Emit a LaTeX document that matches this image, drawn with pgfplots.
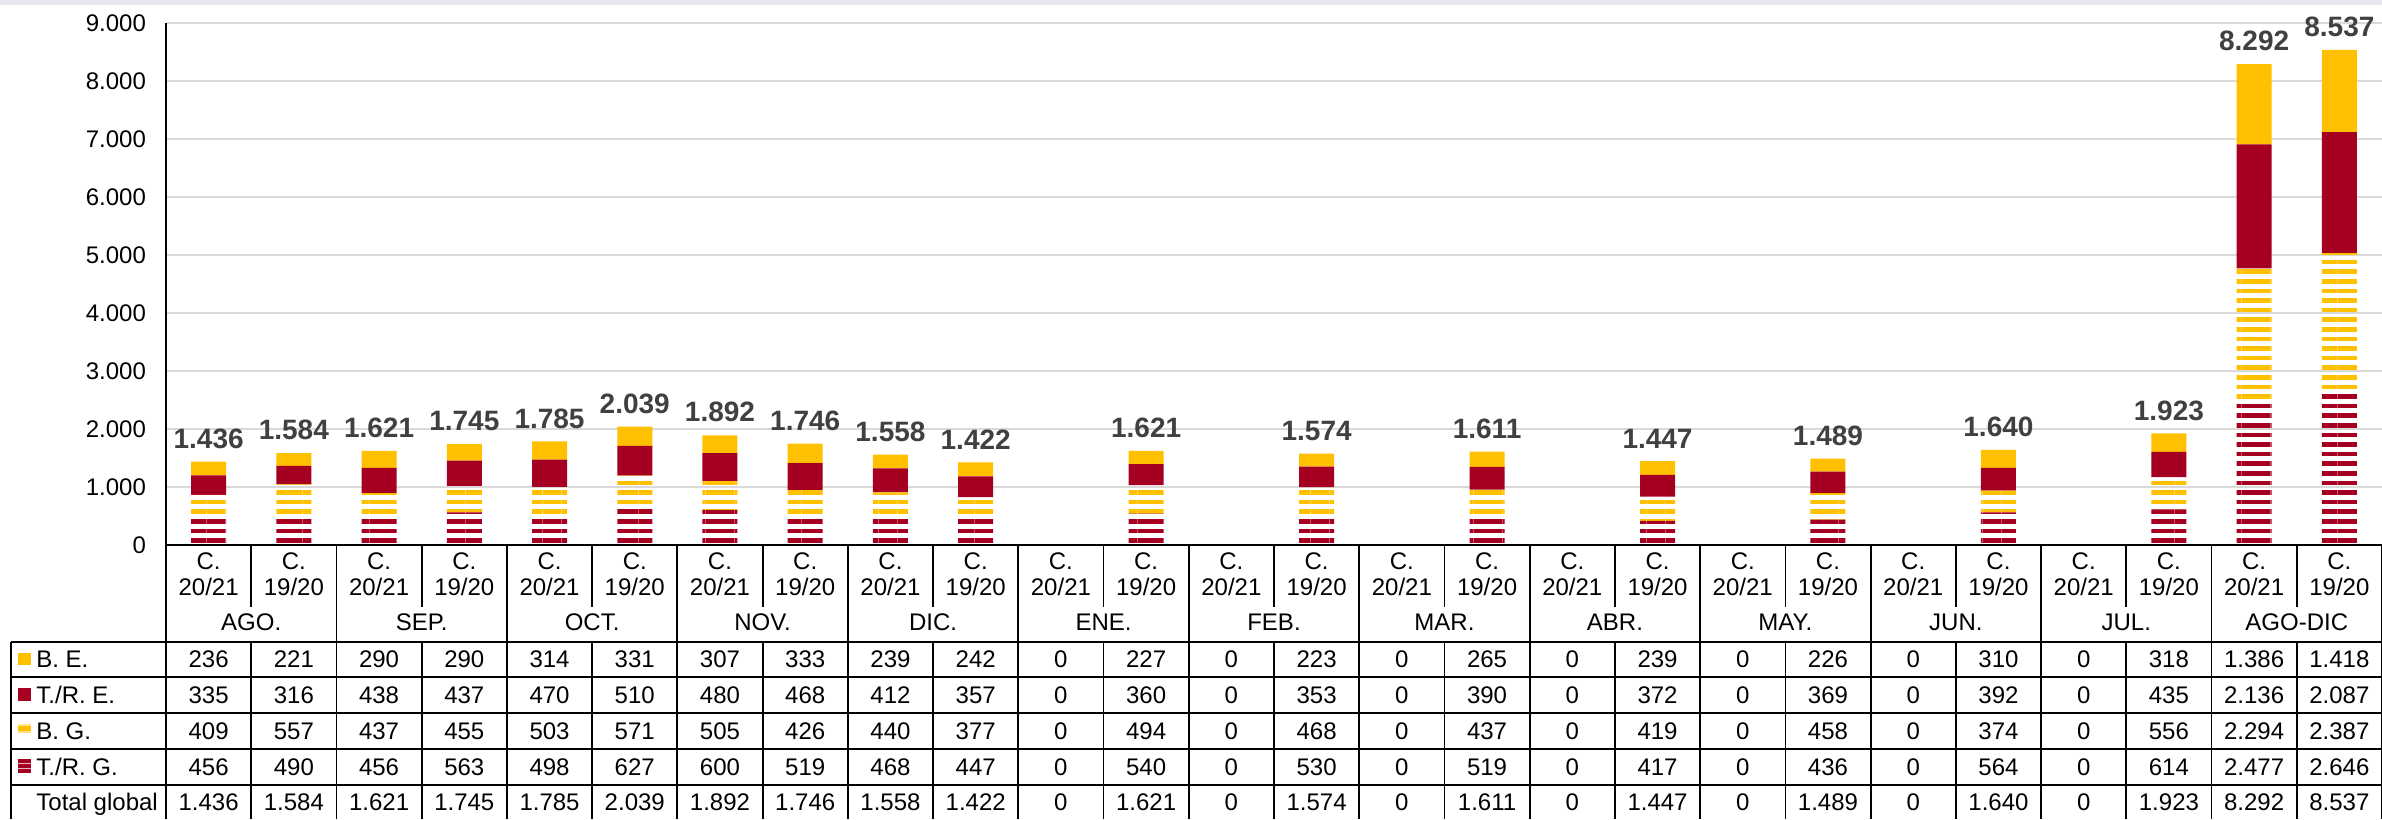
\documentclass[border=0pt]{standalone}
\usepackage{pgfplots}
\pgfplotsset{compat=1.18}
\usepackage{pgfplotstable}
\usetikzlibrary{patterns.meta}
\usepackage{fontspec}
\setmainfont{Liberation Sans}

\definecolor{amarillo}{HTML}{FFC000}
\definecolor{granate}{HTML}{A50021}
\definecolor{rejilla}{HTML}{D9D9D9}
\definecolor{etiqueta}{HTML}{404040}
\definecolor{banda}{HTML}{E9E6EE}

% be = B. E., tre = T./R. E., bg = B. G., trg = T./R. G., tot = Total global
\pgfplotstableread{
x  be    tre   bg    trg   tot
0  236   335   409   456   1436
1  221   316   557   490   1584
2  290   438   437   456   1621
3  290   437   455   563   1745
4  314   470   503   498   1785
5  331   510   571   627   2039
6  307   480   505   600   1892
7  333   468   426   519   1746
8  239   412   440   468   1558
9  242   357   377   447   1422
10 0     0     0     0     0
11 227   360   494   540   1621
12 0     0     0     0     0
13 223   353   468   530   1574
14 0     0     0     0     0
15 265   390   437   519   1611
16 0     0     0     0     0
17 239   372   419   417   1447
18 0     0     0     0     0
19 226   369   458   436   1489
20 0     0     0     0     0
21 310   392   374   564   1640
22 0     0     0     0     0
23 318   435   556   614   1923
24 1386  2136  2294  2477  8292
25 1418  2087  2387  2646  8537
}\datos

\tikzset{rayas/.style={draw=none, pattern={Lines[angle=0,distance=4.8pt,line width=2.3pt]}, pattern color=#1}}
\pgfplotsset{
  marco/.style={at={(83pt,137pt)}, anchor=south west,
    scale only axis, width=1108pt, height=261pt,
    xmin=-0.5, xmax=25.5, ymin=0, ymax=9000},
}

\begin{document}
\begin{tikzpicture}[x=0.5pt, y=0.5pt, font=\fontsize{12}{13}\selectfont]
\useasboundingbox (0,0) rectangle (2382,819);
\fill[banda] (0,814) rectangle (2382,819);

\begin{axis}[
  marco,
  ybar stacked, bar width=17.5pt,
  axis lines*=left,
  x axis line style={line width=1.2pt},
  y axis line style={line width=0.7pt},
  ytick={0,1000,...,9000},
  ymajorgrids, grid style={rejilla, line width=1pt},
  major tick length=0pt,
  tick label style={font=\fontsize{12}{13}\selectfont},
  yticklabel style={xshift=-6.5pt},
  xtick={0,...,25},
  xticklabels={{C.\\20/21},{C.\\19/20},{C.\\20/21},{C.\\19/20},{C.\\20/21},{C.\\19/20},
    {C.\\20/21},{C.\\19/20},{C.\\20/21},{C.\\19/20},{C.\\20/21},{C.\\19/20},
    {C.\\20/21},{C.\\19/20},{C.\\20/21},{C.\\19/20},{C.\\20/21},{C.\\19/20},
    {C.\\20/21},{C.\\19/20},{C.\\20/21},{C.\\19/20},{C.\\20/21},{C.\\19/20},
    {C.\\20/21},{C.\\19/20}},
  xticklabel style={align=center, yshift=-0.5pt},
  extra x ticks={0.5,2.5,...,24.5},
  extra x tick labels={AGO.,SEP.,OCT.,NOV.,DIC.,ENE.,FEB.,MAR.,ABR.,MAY.,JUN.,JUL.,AGO-DIC},
  extra x tick style={tick label style={yshift=-30.5pt}},
  /pgf/number format/.cd, 1000 sep={.}, assume math mode=true,
]
\addplot[rayas=granate] table[x=x, y=trg] {\datos};
\addplot[rayas=amarillo] table[x=x, y=bg] {\datos};
\addplot[draw=none, fill=granate] table[x=x, y=tre] {\datos};
\addplot[draw=none, fill=amarillo] table[x=x, y=be] {\datos};
\end{axis}

% totales sobre las barras
\begin{axis}[
  marco, hide axis, clip=false,
  point meta=explicit, nodes near coords,
  every node near coord/.append style={anchor=south, font=\fontsize{14}{16}\selectfont\bfseries, text=etiqueta, yshift=3pt},
  y filter/.expression={y==0 ? nan : y},
  /pgf/number format/.cd, 1000 sep={.}, assume math mode=true,
]
\addplot[draw=none, mark=none] table[x=x, y=tot, meta=tot] {\datos};
\end{axis}

% filas de la tabla de datos
\begin{axis}[
  at={(83pt,0pt)}, anchor=south west,
  scale only axis, width=1108pt, height=137pt,
  xmin=-0.5, xmax=25.5, ymin=0, ymax=274,
  hide axis, clip=false,
  point meta=explicit, nodes near coords,
  every node near coord/.append style={anchor=center, text=black, font=\fontsize{12}{13}\selectfont},
  /pgf/number format/.cd, 1000 sep={.}, assume math mode=true,
]
\addplot[draw=none, mark=none] table[x=x, y expr=159.5, meta=be] {\datos};
\addplot[draw=none, mark=none] table[x=x, y expr=124, meta=tre] {\datos};
\addplot[draw=none, mark=none] table[x=x, y expr=88, meta=bg] {\datos};
\addplot[draw=none, mark=none] table[x=x, y expr=52, meta=trg] {\datos};
\addplot[draw=none, mark=none] table[x=x, y expr=17, meta=tot] {\datos};
\end{axis}

\begin{scope}[line width=0.9pt]
\foreach \k in {0,2,...,26} \draw ({166+\k*85.2308},274) -- ({166+\k*85.2308},0);
\foreach \k in {1,3,...,25} {
  \draw ({166+\k*85.2308},274) -- ({166+\k*85.2308},212);
  \draw ({166+\k*85.2308},177) -- ({166+\k*85.2308},0);
}
\foreach \y in {177,142,106,70,34} \draw (11,\y) -- (2382,\y);
\draw (11,177) -- (11,0);
\end{scope}

% leyenda
\fill[amarillo] (18,154) rectangle (31,166);
\fill[granate] (18,118) rectangle (31,131);
\fill[amarillo!45] (18,86) rectangle (31,95);
\fill[amarillo] (18,88) rectangle (31,93);
\fill[granate!30] (18,46) rectangle (31,60);
\fill[granate] (18,56) rectangle (31,60);
\fill[granate] (18,51) rectangle (31,55);
\fill[granate] (18,46) rectangle (31,50);
\node[anchor=base west, inner sep=0] at (36,151) {B. E.};
\node[anchor=base west, inner sep=0] at (36,115.5) {T./R. E.};
\node[anchor=base west, inner sep=0] at (36,79.5) {B. G.};
\node[anchor=base west, inner sep=0] at (36,43.5) {T./R. G.};
\node[anchor=base west, inner sep=0] at (36,8.5) {Total global};
\end{tikzpicture}
\end{document}
